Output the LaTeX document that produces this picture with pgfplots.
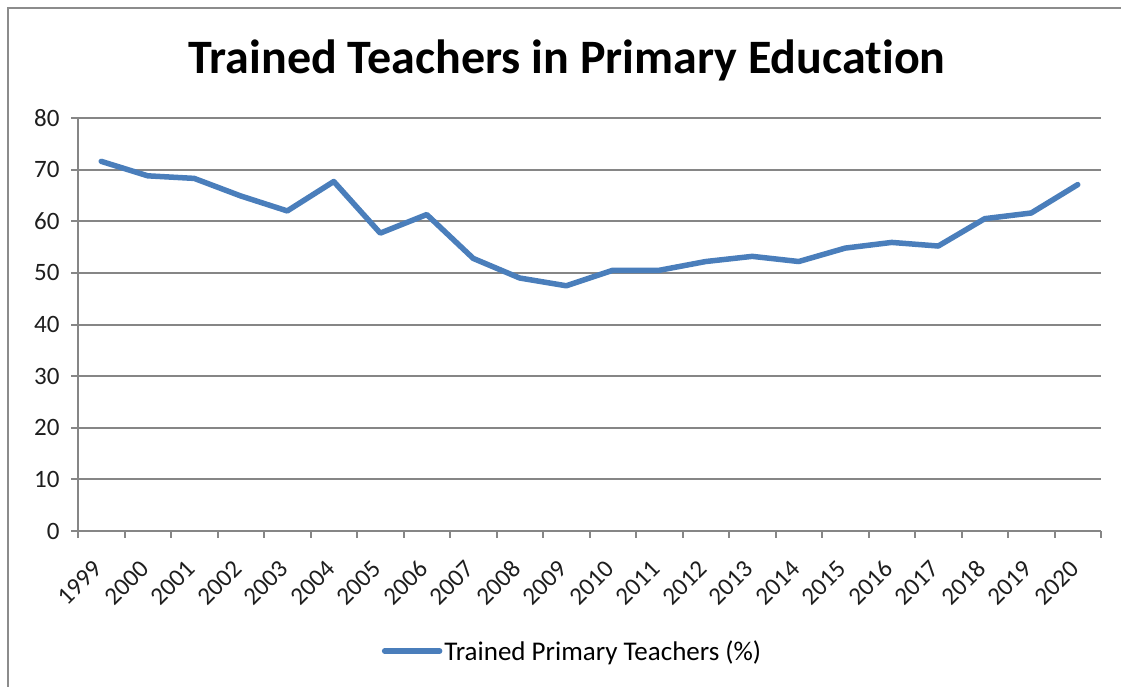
\documentclass[border=0pt]{standalone}
\usepackage{fontspec}
\setmainfont{Carlito}[Ligatures=CommonOff]
\usepackage{pgfplots}
\pgfplotsset{compat=1.18}
\definecolor{gridgray}{RGB}{134,134,134}
\definecolor{lineblue}{RGB}{74,126,187}
\definecolor{framegray}{RGB}{140,140,140}
\definecolor{labelgray}{RGB}{30,30,30}
\newcommand{\tickfont}{\fontsize{25}{25}\selectfont}
\begin{document}
\begin{tikzpicture}[x=1pt,y=1pt]
\path[use as bounding box] (0,0) rectangle (1121,687);
\draw[framegray, line width=2pt] (8,0) -- (8,679) -- (1121,679);
\node[anchor=base, font=\fontsize{48}{48}\selectfont\bfseries, inner sep=0pt] at (567,613) {Trained Teachers in Primary Education};
\begin{axis}[
  at={(78pt,156pt)}, anchor=south west, scale only axis,
  width=1023pt, height=413pt,
  xmin=-0.5, xmax=21.5, ymin=0, ymax=80,
  axis x line*=bottom, axis y line*=left,
  axis line style={gridgray, line width=2pt},
  xtick={0,...,21},
  xticklabels={1999,2000,2001,2002,2003,2004,2005,2006,2007,2008,2009,2010,2011,2012,2013,2014,2015,2016,2017,2018,2019,2020},
  minor xtick={-0.5,0.5,...,21.5},
  major x tick style={draw=none},
  minor x tick style={gridgray, line width=2pt},
  ytick={0,10,...,80},
  major y tick style={gridgray, line width=2pt},
  tick align=outside,
  major tick length=7pt, minor tick length=7pt,
  ymajorgrids, grid style={gridgray, line width=2pt},
  /pgf/number format/assume math mode=true,
  tick label style={font=\tickfont, text=labelgray},
  xticklabel style={font=\tickfont, xshift=-9pt, yshift=-19pt, rotate=45, anchor=north east, inner sep=1pt},
  yticklabel style={font=\tickfont, anchor=east, xshift=-8pt},
  legend style={at={(0.4834,-0.2906)}, anchor=center, draw=none, fill=none,
    font=\fontsize{27}{27}\selectfont, inner sep=0pt},
  legend image code/.code={\draw[lineblue, line width=5.5pt, line cap=round] (0pt,0pt) -- (55pt,0pt);},
]
\addplot[lineblue, line width=5.5pt, line join=round, line cap=round] coordinates {
(0,71.6) (1,68.8) (2,68.3) (3,64.9) (4,62.0) (5,67.7) (6,57.7) (7,61.3)
(8,52.8) (9,49.0) (10,47.5) (11,50.5) (12,50.5) (13,52.2) (14,53.2) (15,52.2)
(16,54.8) (17,55.9) (18,55.2) (19,60.5) (20,61.6) (21,67.1)
};
\addlegendentry{Trained Primary Teachers (\%)}
\end{axis}
\end{tikzpicture}
\end{document}
